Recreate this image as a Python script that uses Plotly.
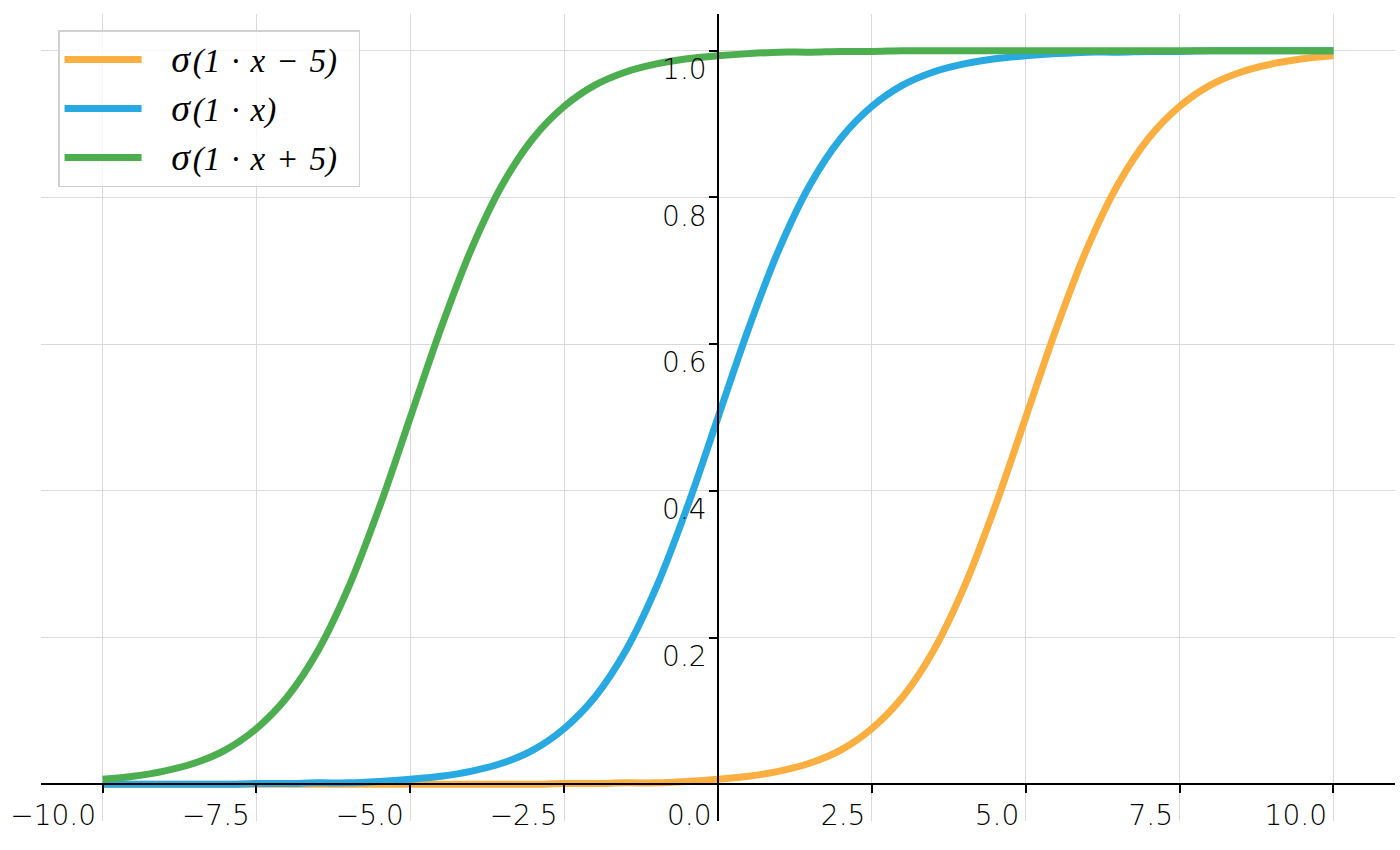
import plotly.graph_objects as go

x_vals = [-10.0, -9.5, -9.0, -8.5, -8.0, -7.5, -7.0, -6.5, -6.0, -5.5, -5.0,
          -4.5, -4.0, -3.5, -3.0, -2.5, -2.0, -1.5, -1.0, -0.5, 0.0,
          0.5, 1.0, 1.5, 2.0, 2.5, 3.0, 3.5, 4.0, 4.5, 5.0,
          5.5, 6.0, 6.5, 7.0, 7.5, 8.0, 8.5, 9.0, 9.5, 10.0]

y_minus5 = [0.000, 0.000, 0.000, 0.000, 0.000, 0.000, 0.000, 0.000, 0.000, 0.000, 0.000,
            0.000, 0.000, 0.000, 0.000, 0.001, 0.001, 0.002, 0.002, 0.004, 0.007,
            0.011, 0.018, 0.029, 0.047, 0.076, 0.119, 0.182, 0.269, 0.378, 0.500,
            0.622, 0.731, 0.818, 0.881, 0.924, 0.953, 0.971, 0.982, 0.989, 0.993]

y_zero = [0.000, 0.000, 0.000, 0.000, 0.000, 0.001, 0.001, 0.002, 0.002, 0.004, 0.007,
          0.011, 0.018, 0.029, 0.047, 0.076, 0.119, 0.182, 0.269, 0.378, 0.500,
          0.622, 0.731, 0.818, 0.881, 0.924, 0.953, 0.971, 0.982, 0.989, 0.993,
          0.996, 0.998, 0.998, 0.999, 0.999, 1.000, 1.000, 1.000, 1.000, 1.000]

y_plus5 = [0.007, 0.011, 0.018, 0.029, 0.047, 0.076, 0.119, 0.182, 0.269, 0.378, 0.500,
           0.622, 0.731, 0.818, 0.881, 0.924, 0.953, 0.971, 0.982, 0.989, 0.993,
           0.996, 0.998, 0.998, 0.999, 0.999, 1.000, 1.000, 1.000, 1.000, 1.000,
           1.000, 1.000, 1.000, 1.000, 1.000, 1.000, 1.000, 1.000, 1.000, 1.000]

series_names = ["σ(1 · x − 5)", "σ(1 · x)", "σ(1 · x + 5)"]
series_values = [y_minus5, y_zero, y_plus5]
series_colors = ["#FAAF40", "#29A9E1", "#4CAE4F"]

x_tick_vals = [-10.0, -7.5, -5.0, -2.5, 0.0, 2.5, 5.0, 7.5, 10.0]
x_tick_text = ["−10.0", "−7.5", "−5.0", "−2.5", "0.0", "2.5", "5.0", "7.5", "10.0"]
y_tick_vals = [0.2, 0.4, 0.6, 0.8, 1.0]
y_tick_text = ["0.2", "0.4", "0.6", "0.8", "1.0"]

X_RANGE = [-11, 11]
Y_RANGE = [-0.05, 1.05]

TICK_FONT = dict(family="DejaVu Sans", size=28, color="black", weight=300)

fig = go.Figure()
for i, (name, vals, col) in enumerate(zip(series_names, series_values, series_colors)):
    sigma, rest = name[0], name[1:]
    label = ("\u2002\u2005<span style='font-size:38px'><i>" + sigma + "</i></span>\u200a"
             + "<i>" + rest.replace(" ", "\u2004") + "</i>\u2002")
    fig.add_trace(go.Scatter(
        x=x_vals, y=vals, mode="lines", name=label, legendgroup=f"g{i}",
        line=dict(color=col, width=7, shape="spline"),
    ))

fig.update_layout(
    width=1400, height=850,
    margin=dict(l=41, r=5, t=14, b=29),
    paper_bgcolor="white", plot_bgcolor="white",
    font=dict(family="DejaVu Sans", size=28, color="black"),
    showlegend=True,
    legend=dict(
        x=0.0126, y=0.980, xanchor="left", yanchor="top",
        bgcolor="rgba(255,255,255,0.8)", bordercolor="#d0d0d0", borderwidth=1.5,
        font=dict(family="Liberation Serif", size=33, color="black"),
        itemwidth=77, tracegroupgap=3,
    ),
    xaxis=dict(
        range=X_RANGE, anchor="free", automargin=False,
        position=(0 - Y_RANGE[0]) / (Y_RANGE[1] - Y_RANGE[0]),
        tickmode="array", tickvals=x_tick_vals, ticktext=x_tick_text,
        ticklabelposition="outside left", ticklabelshift=-5, ticklabelstandoff=6,
        tickfont=TICK_FONT,
        ticks="outside", ticklen=8, tickwidth=1.5, tickcolor="black",
        showline=True, linecolor="black", linewidth=1.5,
        showgrid=True, gridcolor="#d9d9d9", gridwidth=1.3,
        zeroline=False,
    ),
    yaxis=dict(
        range=Y_RANGE, anchor="free", automargin=False,
        position=(0 - X_RANGE[0]) / (X_RANGE[1] - X_RANGE[0]),
        tickmode="array", tickvals=y_tick_vals, ticktext=y_tick_text,
        ticklabelposition="outside bottom", ticklabelshift=-2, ticklabelstandoff=5,
        tickfont=TICK_FONT,
        ticks="outside", ticklen=8, tickwidth=1.5, tickcolor="black",
        showline=True, linecolor="black", linewidth=1.5,
        showgrid=True, gridcolor="#d9d9d9", gridwidth=1.3,
        zeroline=False,
    ),
)

fig.write_html("out.html", config={"displayModeBar": False},
               post_script="document.body.style.margin='0';")
